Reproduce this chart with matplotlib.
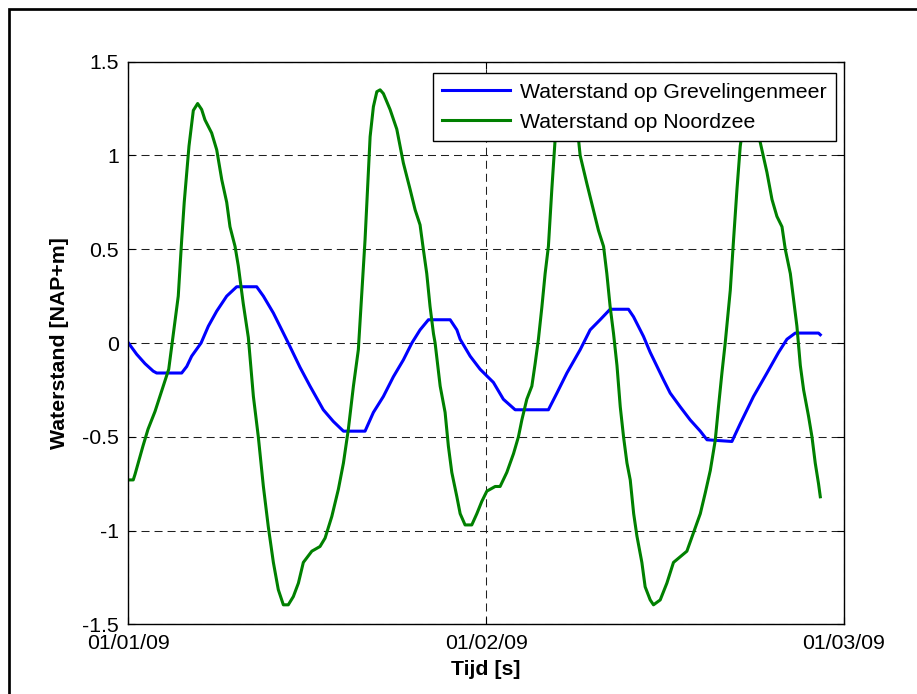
import numpy as np  # numerieke arrays
import matplotlib
matplotlib.use('Agg')  # geen scherm nodig
import matplotlib.pyplot as plt  # plotten
import matplotlib.dates as mdates  # datum-as
from matplotlib.patches import Rectangle  # kader rond de figuur

# Tijd in uren vanaf 01/01/09 00:00 en waterstand in m NAP
t_meer = [0.0, 0.55, 1.11, 1.66, 1.89, 3.57, 3.91, 4.24, 4.87, 5.36, 5.92, 6.59, 7.26, 8.60,
          9.05, 9.72, 10.39, 10.72, 11.51, 12.18, 13.07, 13.74, 14.42, 15.87, 16.43, 17.10,
          17.77, 18.44, 19.01, 19.56, 20.12, 21.58, 22.03, 22.25, 22.92, 23.59, 24.48, 25.15,
          25.94, 28.17, 28.74, 29.41, 30.30, 30.97, 31.64, 32.31, 33.54, 33.88, 34.55, 35.00,
          35.89, 36.34, 37.01, 37.68, 38.36, 38.81, 40.48, 41.04, 41.93, 42.83, 43.61, 44.17,
          44.73, 46.29, 46.41]
h_meer = [0.0, -0.06, -0.11, -0.15, -0.16, -0.16, -0.125, -0.07, 0.0, 0.09, 0.17, 0.25, 0.30, 0.30,
          0.25, 0.16, 0.053, 0.0, -0.13, -0.23, -0.356, -0.418, -0.47, -0.47, -0.37, -0.285,
          -0.18, -0.09, 0.0, 0.07, 0.124, 0.124, 0.07, 0.02, -0.07, -0.14, -0.21, -0.30,
          -0.356, -0.356, -0.267, -0.16, -0.036, 0.07, 0.124, 0.18, 0.18, 0.14, 0.035, -0.05,
          -0.196, -0.267, -0.34, -0.41, -0.47, -0.516, -0.525, -0.43, -0.285, -0.16, -0.05, 0.02,
          0.053, 0.053, 0.044]

t_zee = [0.0, 0.32, 0.44, 0.97, 1.31, 1.78, 2.25, 2.70, 3.01, 3.34, 3.57, 3.74, 4.06, 4.35,
         4.64, 4.91, 5.13, 5.58, 5.92, 6.26, 6.59, 6.81, 7.15, 7.37, 7.70, 8.04, 8.38, 8.71,
         9.05, 9.38, 9.72, 10.05, 10.39, 10.72, 11.06, 11.40, 11.73, 12.30, 12.85, 13.19, 13.64,
         14.08, 14.42, 14.75, 15.09, 15.42, 15.87, 16.21, 16.43, 16.66, 16.88, 17.10, 17.55,
         18.00, 18.44, 18.89, 19.23, 19.56, 19.78, 20.01, 20.23, 20.46, 20.57, 20.91, 21.24,
         21.46, 21.69, 22.03, 22.25, 22.58, 23.03, 23.37, 23.70, 24.04, 24.38, 24.60, 24.93,
         25.38, 25.83, 26.16, 26.39, 26.72, 27.06, 27.28, 27.50, 27.73, 27.95, 28.17, 28.40,
         28.62, 29.00, 29.30, 29.70, 30.19, 30.30, 30.75, 31.19, 31.53, 31.87, 32.09, 32.31,
         32.54, 32.77, 32.99, 33.21, 33.44, 33.66, 33.89, 34.11, 34.44, 34.66, 35.00, 35.22,
         35.67, 36.12, 36.56, 37.01, 37.46, 37.91, 38.36, 38.69, 39.03, 39.36, 39.58, 39.81,
         40.03, 40.37, 40.59, 40.82, 41.04, 41.40, 41.70, 42.00, 42.38, 42.83, 43.17, 43.50,
         43.84, 44.06, 44.40, 44.62, 44.84, 45.07, 45.29, 45.62, 45.85, 46.07, 46.29, 46.41]
h_zee = [-0.73, -0.73, -0.70, -0.55, -0.46, -0.365, -0.25, -0.14, 0.05, 0.25, 0.55, 0.75, 1.05, 1.24,
         1.277, 1.245, 1.19, 1.12, 1.03, 0.87, 0.75, 0.62, 0.515, 0.41, 0.21, 0.03, -0.285, -0.50,
         -0.765, -0.98, -1.17, -1.315, -1.396, -1.396, -1.352, -1.28, -1.17, -1.11, -1.085, -1.04, -0.925,
         -0.78, -0.64, -0.46, -0.23, -0.036, 0.55, 1.10, 1.26, 1.34, 1.35, 1.33, 1.245,
         1.14, 0.96, 0.82, 0.71, 0.63, 0.50, 0.37, 0.195, 0.05, 0.0, -0.23, -0.37,
         -0.55, -0.69, -0.82, -0.91, -0.97, -0.97, -0.91, -0.845, -0.79, -0.775, -0.765, -0.765,
         -0.69, -0.59, -0.50, -0.41, -0.30, -0.23, -0.11, 0.02, 0.19, 0.37, 0.515, 0.82,
         1.085, 1.33, 1.38, 1.30, 1.085, 1.0, 0.85, 0.71, 0.60, 0.515, 0.37, 0.195,
         0.05, -0.12, -0.34, -0.50, -0.64, -0.73, -0.91, -1.03, -1.17, -1.30, -1.37, -1.396,
         -1.37, -1.28, -1.17, -1.14, -1.11, -1.01, -0.91, -0.80, -0.68, -0.52, -0.34, -0.16,
         0.0, 0.28, 0.55, 0.82, 1.05, 1.25, 1.30, 1.25, 1.07, 0.91, 0.765, 0.675,
         0.62, 0.50, 0.37, 0.23, 0.09, -0.12, -0.25, -0.39, -0.50, -0.64, -0.75, -0.82]

start = np.datetime64('2009-01-01T00:00')
eind = np.datetime64('2009-01-03T00:00')


def naar_datum(uren):
    # uren omzetten naar datetime64
    return start + (np.array(uren) * 3600).astype('timedelta64[s]')


plt.rcParams['font.family'] = ['Liberation Sans', 'DejaVu Sans']
plt.rcParams['font.size'] = 15.3

fig = plt.figure(figsize=(9.17, 6.94), dpi=100)
ax = fig.add_axes([0.1401, 0.1004, 0.7803, 0.8107])

ax.plot(naar_datum(t_meer), h_meer, color=(0, 0, 1), lw=2.2, label='Waterstand op Grevelingenmeer')
ax.plot(naar_datum(t_zee), h_zee, color=(0, 0.5, 0), lw=2.2, label='Waterstand op Noordzee')

ax.set_xlim(start, eind)
ax.set_ylim(-1.5, 1.5)
ax.set_yticks([-1.5, -1, -0.5, 0, 0.5, 1, 1.5])
ax.set_yticklabels(['-1.5', '-1', '-0.5', '0', '0.5', '1', '1.5'])
ax.xaxis.set_major_locator(mdates.DayLocator())
ax.xaxis.set_major_formatter(mdates.DateFormatter('%m/%d/%y'))

# matlab-achtige assen: ticks naar binnen, op alle zijden
ax.tick_params(direction='in', length=5, width=0.8, top=True, right=True, pad=7, colors='k')
for s in ax.spines.values():
    s.set_linewidth(1.0)
ax.grid(True, color='#202020', lw=0.75, linestyle=(0, (7.7, 4.8)))

ax.set_xlabel('Tijd [s]', fontweight='bold', labelpad=5)
ax.set_ylabel('Waterstand [NAP+m]', fontweight='bold', labelpad=9)

leg = ax.legend(loc='upper right', bbox_to_anchor=(0.9888, 0.9794), borderaxespad=0,
                fancybox=False, framealpha=1, edgecolor='k', handlelength=3.2,
                handletextpad=0.45, borderpad=0.45, labelspacing=0.52)
leg.get_frame().set_linewidth(1.0)

# zwart kader rond de hele figuur
fig.patches.append(Rectangle((9 / 917, -0.05), 1.1, (694 - 9) / 694 + 0.05,
                             transform=fig.transFigure, fill=False, lw=1.95, color='k'))

plt.savefig('out.png', dpi=100, facecolor='white')
plt.close()
